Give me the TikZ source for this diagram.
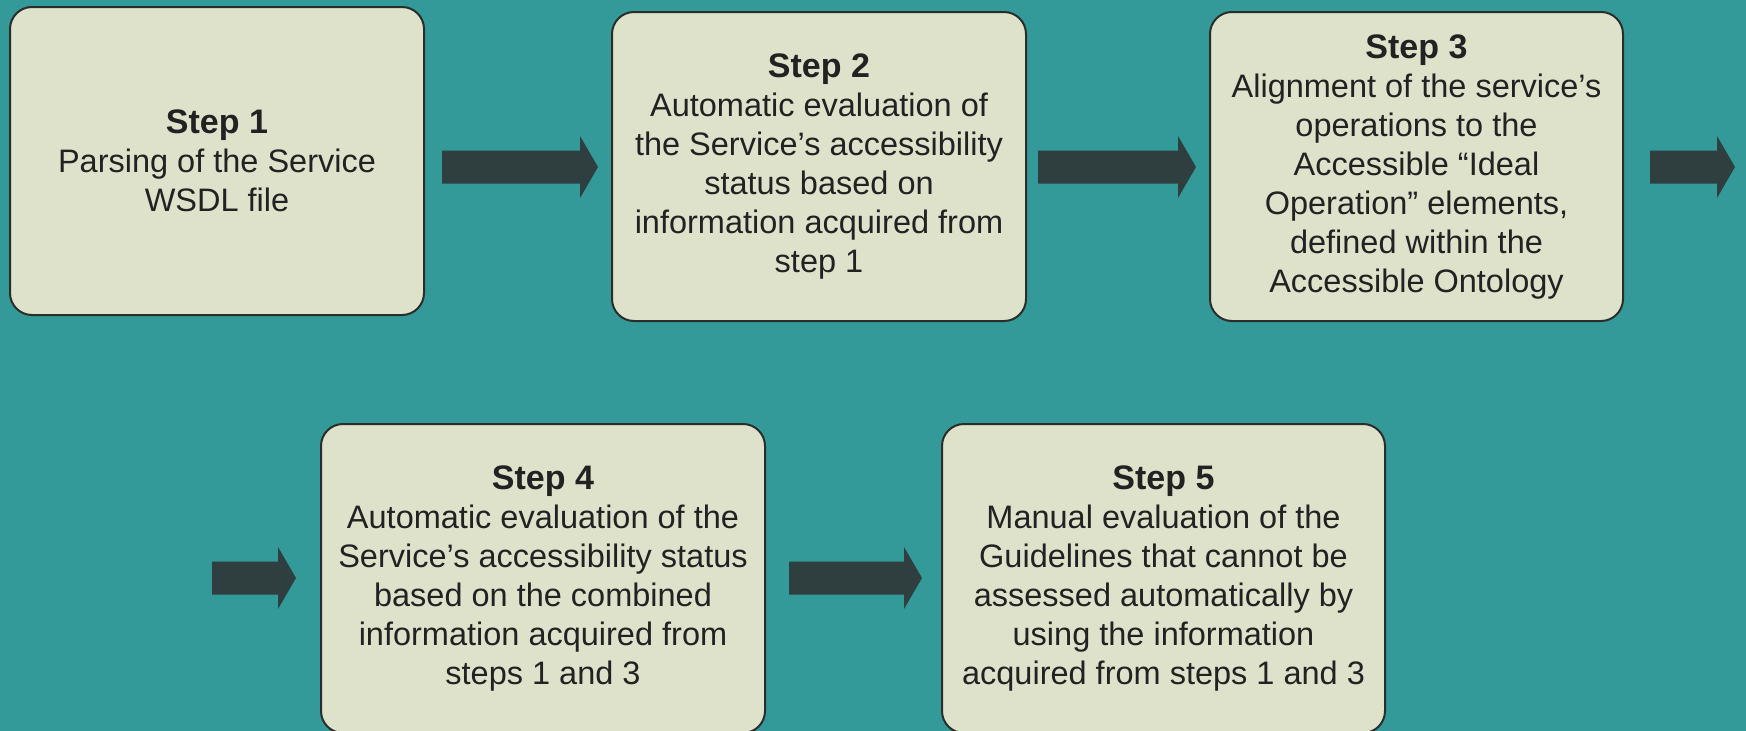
\documentclass[tikz,border=0pt]{standalone}
\usepackage{fontspec}
\setmainfont{Liberation Sans}
\definecolor{bgteal}{HTML}{339A99}
\definecolor{boxfill}{HTML}{DEE2CB}
\definecolor{boxline}{HTML}{2A2E2A}
\definecolor{arrowc}{HTML}{2F3F3F}
\definecolor{txt}{HTML}{222222}
\newcommand\blockarrow[3]{%
  \fill[arrowc] ({#1},{#3-16.5}) -- ({#2-18},{#3-16.5}) -- ({#2-18},{#3-31}) -- ({#2},{#3}) -- ({#2-18},{#3+31}) -- ({#2-18},{#3+16.5}) -- ({#1},{#3+16.5}) -- cycle;}
\newcommand\steptitle[1]{{\bfseries\fontsize{34}{42}\selectfont #1}}
\begin{document}
\begin{tikzpicture}[x=1pt,y=-1pt,
  stepbox/.style={draw=boxline, line width=2pt, fill=boxfill, rounded corners=22pt,
    align=center, inner sep=0pt, text=txt,
    font=\fontsize{32.5}{39}\selectfont}]
\useasboundingbox (0,0) rectangle (1746,731);
\fill[bgteal] (0,0) rectangle (1746,731);

\node[stepbox, minimum width=414pt, minimum height=308pt] (s1) at (217,161)
  {\steptitle{Step 1}\\Parsing of the Service\\WSDL file};
\node[stepbox, minimum width=414pt, minimum height=309pt] (s2) at (819,166.5)
  {\steptitle{Step 2}\\Automatic evaluation of\\the Service's accessibility\\status based on\\information acquired from\\step 1};
\node[stepbox, minimum width=413pt, minimum height=309pt] (s3) at (1416.5,166.5)
  {\steptitle{Step 3}\\Alignment of the service's\\operations to the\\Accessible “Ideal\\Operation” elements,\\defined within the\\Accessible Ontology};
\node[stepbox, minimum width=444pt, minimum height=309pt] (s4) at (543,578.5)
  {\steptitle{Step 4}\\Automatic evaluation of the\\Service's accessibility status\\based on the combined\\information acquired from\\steps 1 and 3};
\node[stepbox, minimum width=443pt, minimum height=309pt] (s5) at (1163.5,578.5)
  {\steptitle{Step 5}\\Manual evaluation of the\\Guidelines that cannot be\\assessed automatically by\\using the information\\acquired from steps 1 and 3};

\blockarrow{442}{598}{167}
\blockarrow{1038}{1196}{167}
\blockarrow{1650}{1735}{167}
\blockarrow{212}{296}{578}
\blockarrow{789}{922}{578}
\end{tikzpicture}
\end{document}
